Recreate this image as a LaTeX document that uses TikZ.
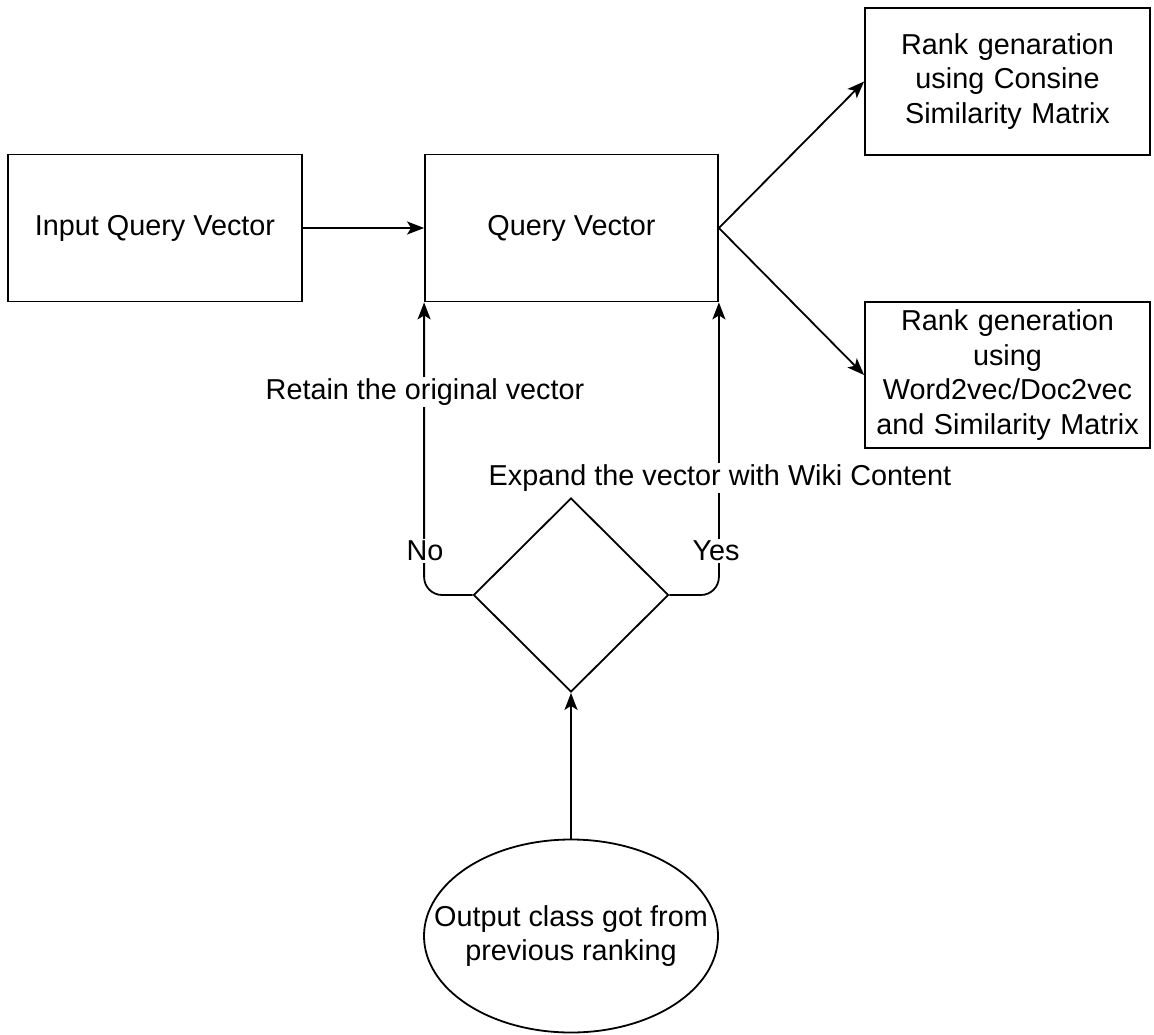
\documentclass[tikz,border=0pt]{standalone}
\usepackage{fontspec}
\setmainfont{Liberation Sans}
\usetikzlibrary{shapes.geometric,arrows.meta}
\begin{document}
\begin{tikzpicture}[x=1pt,y=-1pt,
  every node/.style={font=\fontsize{28.8}{34.5}\selectfont, text=black},
  box/.style={draw=black, line width=1.8pt, rectangle, inner sep=0pt, align=center},
  dia/.style={draw=black, line width=1.8pt, diamond, inner sep=0pt, minimum width=195pt, minimum height=194pt},
  ell/.style={draw=black, line width=1.8pt, ellipse, inner sep=0pt, minimum width=294pt, minimum height=193pt},
  conn/.style={draw=black, line width=1.8pt, -{Stealth[length=17pt,width=13pt,inset=4pt]}},
  lbl/.style={fill=white, inner sep=2pt}]
\useasboundingbox (0,0) rectangle (1154,1035);
\node[box, minimum width=294pt, minimum height=147pt] (inp) at (155,228) {Input Query Vector};
\node[box, minimum width=293pt, minimum height=147pt] (qv) at (571.5,228) {Query Vector};
\node[box, minimum width=285pt, minimum height=147pt, text width=280pt] (r1) at (1007.5,81.5) {Rank genaration\\using Consine\\Similarity Matrix};
\node[box, minimum width=285pt, minimum height=146pt, text width=280pt] (r2) at (1007.5,375) {Rank generation\\using\\Word2vec/Doc2vec\\and Similarity Matrix};
\node[dia] (d) at (571,595) {};
\node[ell] (e) at (571,936) {};
\node[align=center, inner sep=0pt] (etext) at (e.center) {Output class got from\\previous ranking};
\draw[conn] (inp.east) -- (qv.west);
\draw[conn] (qv.east) -- (r1.west);
\draw[conn] (qv.east) -- (r2.west);
\draw[conn] (e.north) -- (d.south);
\draw[conn, rounded corners=18pt] (d.west) -| (qv.south west);
\draw[conn, rounded corners=18pt] (d.east) -| (qv.south east);
\node[lbl] (no) at (425,551) {No};
\node[lbl] (retain) at (425,392) {Retain the original vector};
\node[lbl] (yes) at (716,551) {Yes};
\node[lbl] (expand) at (720,478) {Expand the vector with Wiki Content};
\end{tikzpicture}
\end{document}
